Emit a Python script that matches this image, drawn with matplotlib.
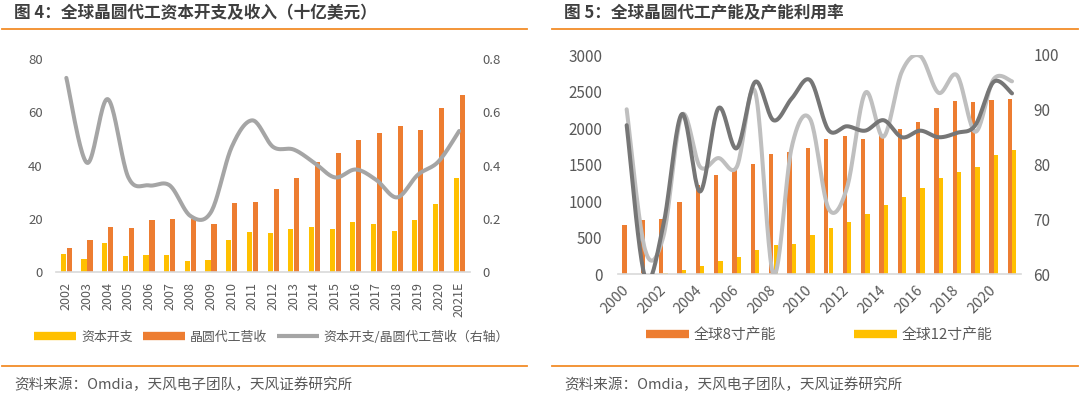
import numpy as np
import matplotlib
matplotlib.use("Agg")
import matplotlib.pyplot as plt
from matplotlib.lines import Line2D

plt.rcParams['font.family'] = ['Noto Sans CJK SC', 'DejaVu Sans']

# ---- 图4 数据（十亿美元）----
years4 = ['2002', '2003', '2004', '2005', '2006', '2007', '2008', '2009', '2010', '2011',
          '2012', '2013', '2014', '2015', '2016', '2017', '2018', '2019', '2020', '2021E']
capex = [6.6, 4.9, 10.9, 6.0, 6.4, 6.4, 4.1, 4.3, 12.0, 15.0,
         14.6, 16.1, 16.8, 15.9, 18.9, 18.0, 15.4, 19.3, 25.6, 35.3]
revenue = [8.9, 11.9, 16.9, 16.5, 19.6, 19.8, 20.0, 17.9, 25.8, 26.4,
           31.3, 35.3, 41.2, 44.8, 49.5, 52.4, 54.9, 53.5, 61.5, 66.6]
ratio = [0.73, 0.41, 0.65, 0.355, 0.325, 0.325, 0.21, 0.225, 0.47, 0.57,
         0.47, 0.46, 0.41, 0.355, 0.385, 0.345, 0.28, 0.365, 0.415, 0.53]

# ---- 图5 数据 ----
years5 = list(range(2000, 2022))
cap8 = [680, 749, 763, 991, 1219, 1352, 1429, 1507, 1639, 1676, 1726,
        1854, 1890, 1854, 1900, 1982, 2082, 2269, 2370, 2352, 2384, 2393]
cap12 = [0, 8, 23, 64, 110, 178, 242, 333, 397, 411, 534,
         639, 712, 826, 945, 1064, 1183, 1315, 1397, 1470, 1626, 1703]
util_dark = [87.2, 59.5, 69.0, 89.2, 75.1, 90.3, 83.0, 95.1, 88.1, 92.1, 95.4,
             86.3, 87.0, 86.2, 88.1, 85.0, 86.2, 85.0, 85.8, 87.2, 95.1, 93.0]
util_light = [90.1, 64.5, 66.9, 89.0, 79.6, 81.2, 79.6, 93.3, 60.0, 83.3, 88.3,
              72.0, 75.7, 93.1, 85.1, 97.0, 99.8, 93.1, 96.3, 86.0, 95.6, 95.2]

ORANGE = '#ED7D31'
YELLOW = '#FFC000'
TXT = '#595959'
SEP = '#F28C28'
W, H = 1080, 396


def smooth(x, y, n=24):
    # 类似 Excel 的平滑线（Catmull-Rom 贝塞尔）
    p = np.column_stack([x, y]).astype(float)
    pad = np.vstack([p[0], p, p[-1]])
    t = np.linspace(0, 1, n)[:, None]
    segs = []
    for i in range(len(p) - 1):
        p0, p1, p2, p3 = pad[i], pad[i + 1], pad[i + 2], pad[i + 3]
        c1 = p1 + (p2 - p0) / 6
        c2 = p2 - (p3 - p1) / 6
        s = (1 - t) ** 3 * p1 + 3 * (1 - t) ** 2 * t * c1 + 3 * (1 - t) * t ** 2 * c2 + t ** 3 * p2
        segs.append(s if i == 0 else s[1:])
    s = np.vstack(segs)
    return s[:, 0], s[:, 1]


def px_axes(fig, x0, x1, ytop, ybot):
    return fig.add_axes([x0 / W, 1 - ybot / H, (x1 - x0) / W, (ybot - ytop) / H])


def style(ax, twin):
    for sp in ax.spines.values():
        sp.set_visible(False)
    if not twin:
        ax.spines['bottom'].set_visible(True)
        ax.spines['bottom'].set_color('#D9D9D9')
        ax.spines['bottom'].set_linewidth(1.2)
    ax.tick_params(length=0, colors=TXT)


fig = plt.figure(figsize=(W / 100, H / 100), dpi=100)

# 标题、分隔线、来源
for x0, x1, title in [(2, 527, '图 4：全球晶圆代工资本开支及收入（十亿美元）'),
                      (552, 1078, '图 5：全球晶圆代工产能及产能利用率')]:
    fig.text((x0 + 12) / W, 1 - 13 / H, title, fontsize=12, fontweight='bold',
             color='#3F3F3F', va='center', ha='left')
    fig.add_artist(Line2D([x0 / W, x1 / W], [1 - 28.5 / H] * 2, color=SEP, lw=1.3))
    fig.add_artist(Line2D([x0 / W, x1 / W], [1 - 366 / H] * 2, color=SEP, lw=1.3))
    fig.text((x0 + 12) / W, 1 - 385 / H, '资料来源：Omdia，天风电子团队，天风证券研究所',
             fontsize=10.5, color=TXT, va='center', ha='left')

# ---- 左图 ----
ax1 = px_axes(fig, 56, 469.5, 59.3, 271.7)
x4 = np.arange(len(years4))
ax1.bar(x4 - 0.145, capex, width=0.25, color=YELLOW, zorder=2)
ax1.bar(x4 + 0.145, revenue, width=0.25, color=ORANGE, zorder=2)
ax1.set_xlim(-0.5, len(years4) - 0.5)
ax1.set_ylim(0, 80)
ax1.set_yticks(range(0, 81, 20))
ax1.set_xticks(x4)
ax1.set_xticklabels(years4, rotation=90, fontsize=9, color=TXT, va='top')
style(ax1, False)
ax1.tick_params(axis='y', labelsize=9.5, pad=9.5)
ax1.tick_params(axis='x', pad=7.5)

ax1r = ax1.twinx()
sx, sy = smooth(x4, ratio)
ax1r.plot(sx, sy, color='#A5A5A5', lw=2.9, solid_capstyle='round', zorder=3)
ax1r.set_ylim(0, 0.8)
ax1r.set_yticks([0, 0.2, 0.4, 0.6, 0.8])
ax1r.set_yticklabels(['0', '0.2', '0.4', '0.6', '0.8'])
style(ax1r, True)
ax1r.tick_params(axis='y', labelsize=9.5, pad=9.5)

h1 = [Line2D([], [], color=YELLOW, lw=6, solid_capstyle='butt'),
      Line2D([], [], color=ORANGE, lw=6, solid_capstyle='butt'),
      Line2D([], [], color='#A5A5A5', lw=3, solid_capstyle='butt')]
fig.legend(h1, ['资本开支', '晶圆代工营收', '资本开支/晶圆代工营收（右轴）'],
           loc='center left', bbox_to_anchor=(34.4 / W, 1 - 337 / H), ncol=3,
           frameon=False, fontsize=9.3, labelcolor=TXT, borderpad=0, borderaxespad=0,
           handlelength=3.25, handletextpad=0.36, columnspacing=0.8)

# ---- 右图 ----
ax2 = px_axes(fig, 617.5, 1021.2, 55, 274.3)
x5 = np.arange(len(years5))
ax2.bar(x5 - 0.12, cap8, width=0.235, color=ORANGE, zorder=2)
ax2.bar(x5 + 0.12, cap12, width=0.235, color=YELLOW, zorder=2)
ax2.set_xlim(-0.5, len(years5) - 0.5)
ax2.set_ylim(0, 3000)
ax2.set_yticks(range(0, 3001, 500))
ax2.set_xticks(x5[::2])
ax2.set_xticklabels([str(y) for y in years5[::2]], rotation=45, fontsize=10.5,
                    color=TXT, ha='right', va='center', rotation_mode='anchor')
style(ax2, False)
ax2.tick_params(axis='y', labelsize=11, pad=10.8)
ax2.tick_params(axis='x', pad=10)

ax2r = ax2.twinx()
sx, sy = smooth(x5, util_light)
ax2r.plot(sx, sy, color='#BFBFBF', lw=2.9, solid_capstyle='round', zorder=3)
sx, sy = smooth(x5, util_dark)
ax2r.plot(sx, sy, color='#767676', lw=2.9, solid_capstyle='round', zorder=4)
ax2r.set_ylim(60, 100)
ax2r.set_yticks(range(60, 101, 10))
style(ax2r, True)
ax2r.tick_params(axis='y', labelsize=11, pad=8.7)

h2 = [Line2D([], [], color=ORANGE, lw=6, solid_capstyle='butt'),
      Line2D([], [], color=YELLOW, lw=6, solid_capstyle='butt')]
fig.legend(h2, ['全球8寸产能', '全球12寸产能'],
           loc='center left', bbox_to_anchor=(646 / W, 1 - 335 / H), ncol=2,
           frameon=False, fontsize=10.7, labelcolor=TXT, borderpad=0, borderaxespad=0,
           handlelength=2.87, handletextpad=0.3, columnspacing=5.3)

fig.savefig('out.png', dpi=100)
